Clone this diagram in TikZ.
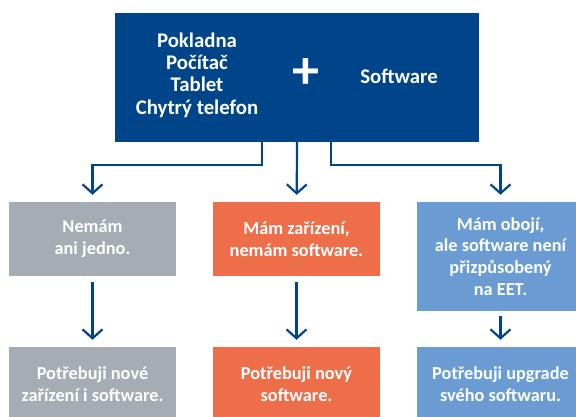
\documentclass[tikz,border=0pt]{standalone}
\usepackage{fontspec}
\setmainfont{Carlito}
\usepackage{tikz}
\usetikzlibrary{positioning, arrows.meta}
\definecolor{eetblue}{RGB}{0, 69, 137}
\definecolor{eetgray}{RGB}{165, 172, 179}
\definecolor{eetorange}{RGB}{238, 110, 74}
\definecolor{eetlight}{RGB}{106, 156, 211}

\begin{document}
\begin{tikzpicture}[
  x=1pt, y=-1pt,
  font=\fontsize{20.8}{22.3}\selectfont\bfseries,
  blok/.style={fill=#1, text=white, align=center, inner sep=2pt, minimum width=167pt, minimum height=74pt,
    font=\fontsize{18.3}{21.8}\selectfont\bfseries},
  blok/.default=eetgray,
  sipka/.style={-{Straight Barb[length=9pt, width=20pt, line width=2.2pt]}, line width=2.2pt, eetblue},
  txt/.style={text=white, align=center, inner sep=0pt}
]
\clip (0,0) rectangle (576,417);
% Horni blok: zarizeni + software
\node[fill=eetblue, minimum width=364pt, minimum height=129pt, inner sep=0pt] (top) at (297,77.5) {};
\node[txt] (zarizeni) at (197,75) {Pokladna\\Počítač\\Tablet\\Chytrý telefon};
\node[txt, font=\fontsize{54}{54}\selectfont\bfseries] (plus) at (306,74) {+};
\node[txt] (soft) at (399,76) {Software};
% Rada 2: vychozi situace
\node[blok=eetgray] (nemam) at (92.5,239) {Nemám\\ani jedno.};
\node[blok=eetorange] (mamzar) at (296.5,239) {Mám zařízení,\\nemám software.};
\node[blok=eetlight, minimum height=109pt] (mamoboji) at (500.5,256.5) {Mám obojí,\\ale software není\\přizpůsobený\\na EET.};
% Rada 3: co potrebuji
\node[blok=eetgray] (potr1) at (92.5,384) {Potřebuji nové\\zařízení i software.};
\node[blok=eetorange] (potr2) at (296.5,384) {Potřebuji nový\\software.};
\node[blok=eetlight] (potr3) at (500.5,384) {Potřebuji upgrade\\svého softwaru.};
% Sipky
\draw[sipka, shorten >=7pt] ([xshift=-35pt]top.south) -- ++(0,23) -| (nemam);
\draw[sipka, shorten >=7pt] (top.south) -- (mamzar);
\draw[sipka, shorten >=7pt] ([xshift=34pt]top.south) -- ++(0,23) -| (mamoboji);
\draw[sipka, shorten <=6pt, shorten >=7pt] (nemam) -- (potr1);
\draw[sipka, shorten <=6pt, shorten >=7pt] (mamzar) -- (potr2);
\draw[sipka, shorten <=5pt, shorten >=7pt] (mamoboji) -- (potr3);
\end{tikzpicture}
\end{document}
